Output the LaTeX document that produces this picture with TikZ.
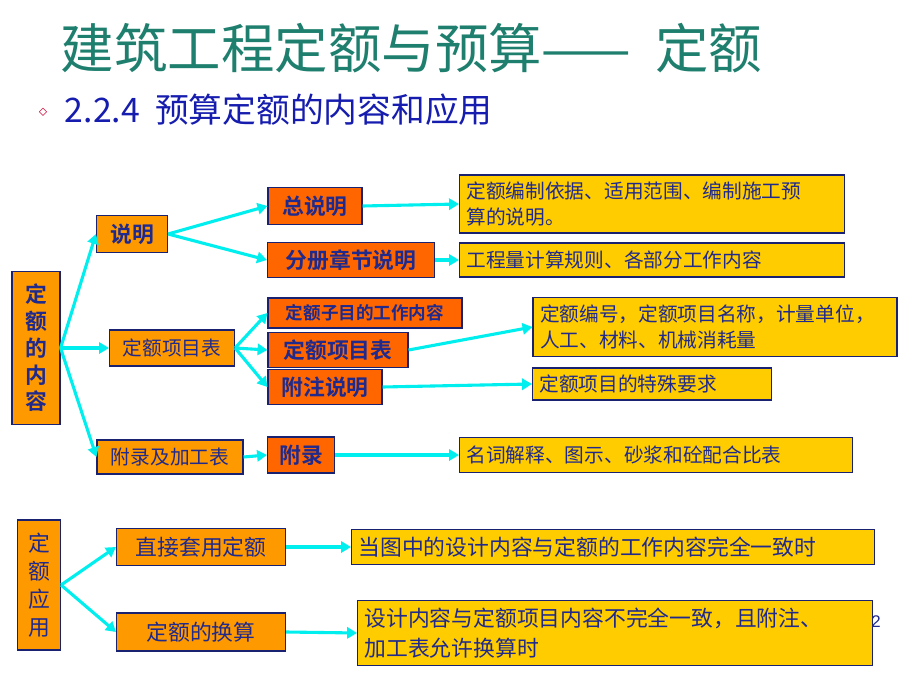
\documentclass[tikz,border=0pt]{standalone}
\usepackage{fontspec}
\setmainfont{Liberation Sans}
\newfontfamily\cjk{Noto Sans CJK SC}
\newfontfamily\cjkbold{Noto Sans CJK SC Bold}
\usetikzlibrary{arrows.meta}
\definecolor{lorange}{HTML}{FF9900}
\definecolor{rorange}{HTML}{FF6600}
\definecolor{gold}{HTML}{FFCC00}
\definecolor{navy}{HTML}{1F2A8C}
\definecolor{teal}{HTML}{1E7F6E}
\definecolor{aqua}{HTML}{00EEEE}
\tikzset{
  box/.style={draw=navy!80!black, line width=0.8pt, text=navy, inner sep=0pt, align=center},
  size/.style 2 args={minimum width=#1*0.025cm, minimum height=#2*0.025cm},
  lvlone/.style={box, fill=lorange, font=\cjkbold\fontsize{15.5}{19}\selectfont},
  lvltwo/.style={box, fill=rorange, font=\cjkbold\fontsize{15.5}{18}\selectfont},
  note/.style 2 args={box, fill=gold, align=left, inner xsep=5pt, text width=#1*0.025cm-10pt,
    minimum height=#2*0.025cm, font=\cjk\fontsize{14}{19}\selectfont},
  link/.style={draw=aqua, line width=2.2pt, -{Triangle[length=7pt,width=8pt]}}
}
\begin{document}
\begin{tikzpicture}[x=0.025cm, y=-0.025cm]
    \fill[white] (0,0) rectangle (920,690);

    % Titel
    \node[anchor=west, text=teal, font=\cjk\fontsize{38}{40}\selectfont] (title) at (56,48) {建筑工程定额与预算——\ \ 定额};
    \node[text=purple!80!red, font=\fontsize{13}{14}\selectfont] (bullet) at (43,113) {\(\diamond\)};
    \node[anchor=west, text=navy!70!blue, font=\cjk\fontsize{24}{26}\selectfont] (sub) at (60,110) {2.2.4\ \ 预算定额的内容和应用};

    % Eerste blok: inhoud
    \node[lvlone, size={48}{153}] (inhoud) at (36,348) {定\\额\\的\\内\\容};
    \node[lvlone, size={71}{37}] (shuoming) at (132,234) {说明};
    \node[lvlone, size={125}{36}, font=\cjk\fontsize{14}{16}\selectfont] (xiangmu) at (172,348) {定额项目表};
    \node[lvlone, size={146}{34}, font=\cjk\fontsize{14}{16}\selectfont] (fulujia) at (170,457) {附录及加工表};

    \node[lvltwo, size={94}{37}] (zong) at (315,206) {总说明};
    \node[lvltwo, size={167}{35}] (fence) at (351,260) {分册章节说明};
    \node[lvltwo, size={194}{30}, font=\cjkbold\fontsize{12.5}{14}\selectfont] (zimu) at (365,313) {定额子目的工作内容};
    \node[lvltwo, size={140}{35}] (biao) at (338,350) {定额项目表};
    \node[lvltwo, size={114}{35}] (fuzhu) at (325,387) {附注说明};
    \node[lvltwo, size={67}{36}] (fulu) at (301,455) {附录};

    \node[note={385}{58}] (n1) at (652,204) {定额编制依据、适用范围、编制施工预\\算的说明。};
    \node[note={385}{34}] (n2) at (652,260) {工程量计算规则、各部分工作内容};
    \node[note={364}{59}] (n3) at (715,327) {定额编号，定额项目名称，计量单位，\\人工、材料、机械消耗量};
    \node[note={239}{32}] (n4) at (652,384) {定额项目的特殊要求};
    \node[note={393}{35}] (n5) at (656,455) {名词解释、图示、砂浆和砼配合比表};

    \draw[link] (inhoud.east) -- (shuoming.west);
    \draw[link] (inhoud.east) -- (xiangmu.west);
    \draw[link] (inhoud.east) -- (fulujia.west);
    \draw[link] (shuoming.east) -- (zong.west);
    \draw[link] (shuoming.east) -- (fence.west);
    \draw[link] (xiangmu.east) -- (zimu.west);
    \draw[link] (xiangmu.east) -- (biao.west);
    \draw[link] (xiangmu.east) -- (fuzhu.west);
    \draw[link] (fulujia.east) -- (fulu.west);
    \draw[link] (zong.east) -- (n1.west);
    \draw[link] (fence.east) -- (n2.west);
    \draw[link] (biao.east) -- (n3.west);
    \draw[link] (fuzhu.east) -- (n4.west);
    \draw[link] (fulu.east) -- (n5.west);

    % Tweede blok: toepassing
    \node[lvlone, size={43}{130}, font=\cjk\fontsize{15.5}{20}\selectfont] (toepas) at (39,585) {定\\额\\应\\用};
    \node[lvlone, size={169}{37}, font=\cjk\fontsize{15.5}{18}\selectfont] (direct) at (201,547) {直接套用定额};
    \node[lvlone, size={169}{38}, font=\cjk\fontsize{15.5}{18}\selectfont] (huansuan) at (201,632) {定额的换算};
    \node[note={523}{35}, font=\cjk\fontsize{15.5}{18}\selectfont] (n6) at (613,547) {当图中的设计内容与定额的工作内容完全一致时};
    \node[note={515}{65}, font=\cjk\fontsize{15.5}{21}\selectfont] (n7) at (615,633) {设计内容与定额项目内容不完全一致，且附注、\\加工表允许换算时};
    \node[text=navy, font=\fontsize{12}{14}\selectfont] (page) at (876,622) {2};

    \draw[link] (toepas.east) -- (direct.west);
    \draw[link] (toepas.east) -- (huansuan.west);
    \draw[link] (direct.east) -- (n6.west);
    \draw[link] (huansuan.east) -- (n7.west);
\end{tikzpicture}
\end{document}
